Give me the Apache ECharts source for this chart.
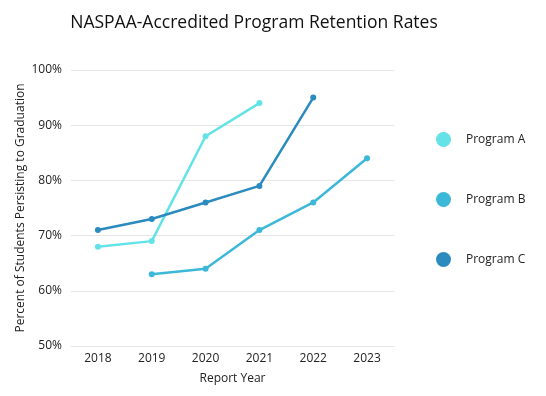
<!DOCTYPE html>
<html><head><meta charset="utf-8">
<script src="https://cdn.jsdelivr.net/npm/echarts@6/dist/echarts.min.js"></script>
<style>html,body{margin:0;padding:0;background:#fff}#c{width:546px;height:396px}</style>
</head><body><div id="c"></div>
<script>
const years = ['2018','2019','2020','2021','2022','2023'];
const programA = [68, 69, 88, 94, null, null];
const programB = [null, 63, 64, 71, 76, 84];
const programC = [71, 73, 76, 79, 95, null];
const seriesNames = ['Program A','Program B','Program C'];
const colors = ['#63e3e8','#3cb8d8','#2b8bbf'];
const FONT = 'Open Sans';
const chart = echarts.init(document.getElementById('c'));
const mk = (name, data, i) => ({
  name, type: 'line', data, color: colors[i],
  symbol: 'circle', symbolSize: 6, connectNulls: false,
  lineStyle: { width: 2.5, color: colors[i] },
  itemStyle: { color: colors[i] }
});
chart.setOption({
  animation: false,
  textStyle: { fontFamily: FONT },
  title: {
    text: 'NASPAA-Accredited Program Retention Rates',
    left: 249, top: 9, textAlign: 'center',
    textStyle: { fontFamily: FONT, fontSize: 17.5, fontWeight: 'normal', color: '#111' }
  },
  legend: {
    orient: 'vertical', left: 431, top: 127, itemGap: 45,
    icon: 'circle', itemWidth: 15, itemHeight: 15,
    textStyle: { fontFamily: FONT, fontSize: 12, color: '#222', padding: [0, 0, 0, 10] },
    data: seriesNames
  },
  grid: { left: 71, right: 152, top: 70, bottom: 50, containLabel: false },
  xAxis: {
    type: 'category', data: years, boundaryGap: true,
    name: 'Report Year', nameLocation: 'middle', nameGap: 27,
    nameTextStyle: { fontFamily: FONT, fontSize: 12, color: '#222' },
    axisLine: { lineStyle: { color: '#e6e6e6' } },
    axisTick: { show: false },
    axisLabel: { fontFamily: FONT, fontSize: 12, color: '#222', margin: 7 }
  },
  yAxis: {
    type: 'value', min: 50, max: 100, interval: 10,
    name: 'Percent of Students Persisting to Graduation',
    nameLocation: 'middle', nameGap: 44, nameMoveOverlap: false,
    nameTextStyle: { fontFamily: FONT, fontSize: 12, color: '#222' },
    axisLine: { show: false }, axisTick: { show: false },
    axisLabel: { formatter: '{value}%', fontFamily: FONT, fontSize: 12, color: '#222', margin: 9 },
    splitLine: { lineStyle: { color: '#e6e6e6' } }
  },
  series: [mk(seriesNames[0], programA, 0), mk(seriesNames[1], programB, 1), mk(seriesNames[2], programC, 2)]
});
</script></body></html>
